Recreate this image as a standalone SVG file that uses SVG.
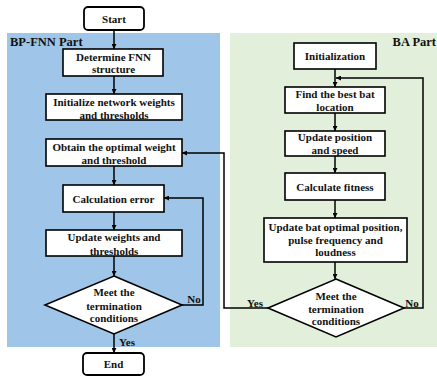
<svg xmlns="http://www.w3.org/2000/svg" width="437" height="378" viewBox="0 0 437 378">
<defs>
<style>
.box{fill:#fff;stroke:#000;stroke-width:1.6}
.term{fill:#fff;stroke:#000;stroke-width:1.8}
.t{font-family:"Liberation Serif","Times New Roman",serif;font-weight:bold;font-size:11px;text-anchor:middle;fill:#111}
.lbl{font-family:"Liberation Serif","Times New Roman",serif;font-weight:bold;font-size:12.5px;fill:#111}
.c{fill:none;stroke:#000;stroke-width:1.5}
</style>
<marker id="ah" viewBox="0 0 10 10" refX="10" refY="5" markerWidth="5" markerHeight="5" orient="auto" markerUnits="userSpaceOnUse">
<path d="M0,0 L10,5 L0,10 z" fill="#000"/>
</marker>
</defs>
<rect width="437" height="378" fill="#fff"/>
<g id="bp-panel">
<rect x="7" y="33" width="213" height="314" fill="#9fc5e8"/>
<text class="lbl" x="10" y="46">BP-FNN Part</text>
</g>
<g id="ba-panel">
<rect x="230" y="33" width="207" height="314" fill="#e2efda"/>
<text class="lbl" x="436" y="46" text-anchor="end">BA Part</text>
</g>
<g id="connectors">
<path class="c" d="M114,30 V49" marker-end="url(#ah)"/>
<path class="c" d="M114,76 V94" marker-end="url(#ah)"/>
<path class="c" d="M114,166 V185" marker-end="url(#ah)"/>
<path class="c" d="M114,212 V230" marker-end="url(#ah)"/>
<path class="c" d="M114,256 V276" marker-end="url(#ah)"/>
<path class="c" d="M114,334 V353" marker-end="url(#ah)"/>
<path class="c" d="M182,305 H203 V198 H164" marker-end="url(#ah)"/>
<path class="c" d="M335,69 V87" marker-end="url(#ah)"/>
<path class="c" d="M404,308 H423 V78 H336" marker-end="url(#ah)"/>
<path class="c" d="M335,113 V131" marker-end="url(#ah)"/>
<path class="c" d="M335,156 V173" marker-end="url(#ah)"/>
<path class="c" d="M335,200 V218" marker-end="url(#ah)"/>
<path class="c" d="M335,262 V279" marker-end="url(#ah)"/>
<path class="c" d="M268,308 H224 V153 H182" marker-end="url(#ah)"/>
<text class="t" x="194" y="303">No</text>
<text class="t" x="127" y="346">Yes</text>
<text class="t" x="255" y="307">Yes</text>
<text class="t" x="412" y="307">No</text>
</g>
<g id="start">
<rect class="term" x="84" y="7" width="60" height="23" rx="4"/>
<text class="t" x="114" y="22.5">Start</text>
</g>
<g id="determine">
<rect class="box" x="63" y="49" width="100" height="27"/>
<text class="t" x="113.5" y="61">Determine FNN</text>
<text class="t" x="113.5" y="73">structure</text>
</g>
<g id="init-weights">
<rect class="box" x="46" y="94" width="136" height="26"/>
<text class="t" x="114" y="106">Initialize network weights</text>
<text class="t" x="114" y="119">and thresholds</text>
</g>
<g id="obtain">
<rect class="box" x="46" y="139" width="136" height="27"/>
<text class="t" x="114" y="151">Obtain the optimal weight</text>
<text class="t" x="114" y="164">and threshold</text>
</g>
<g id="calc-error">
<rect class="box" x="63" y="185" width="101" height="27"/>
<text class="t" x="113.5" y="203">Calculation error</text>
</g>
<g id="update-weights">
<rect class="box" x="46" y="230" width="136" height="26"/>
<text class="t" x="114" y="241">Update weights and</text>
<text class="t" x="114" y="255">thresholds</text>
</g>
<g id="bp-decision">
<polygon class="box" points="114,276 182,305 114,334 45,305"/>
<text class="t" x="114" y="296">Meet the</text>
<text class="t" x="114" y="310">termination</text>
<text class="t" x="114" y="322">conditions</text>
</g>
<g id="end">
<rect class="term" x="83" y="353" width="61" height="22" rx="4"/>
<text class="t" x="113.5" y="368">End</text>
</g>
<g id="initialization">
<rect class="box" x="294" y="43" width="82" height="26"/>
<text class="t" x="335" y="60">Initialization</text>
</g>
<g id="find-best">
<rect class="box" x="285" y="87" width="100" height="26"/>
<text class="t" x="335" y="98">Find the best bat</text>
<text class="t" x="335" y="111">location</text>
</g>
<g id="update-pos">
<rect class="box" x="285" y="131" width="100" height="25"/>
<text class="t" x="335" y="141">Update position</text>
<text class="t" x="335" y="154">and speed</text>
</g>
<g id="calc-fitness">
<rect class="box" x="285" y="173" width="100" height="27"/>
<text class="t" x="335" y="191">Calculate fitness</text>
</g>
<g id="update-bat">
<rect class="box" x="264" y="218" width="143" height="44"/>
<text class="t" x="335.5" y="231">Update bat optimal position,</text>
<text class="t" x="335.5" y="244">pulse frequency and</text>
<text class="t" x="335.5" y="256">loudness</text>
</g>
<g id="ba-decision">
<polygon class="box" points="336,279 404,308 336,337 268,308"/>
<text class="t" x="336" y="300">Meet the</text>
<text class="t" x="336" y="313">termination</text>
<text class="t" x="336" y="325">conditions</text>
</g>
</svg>
